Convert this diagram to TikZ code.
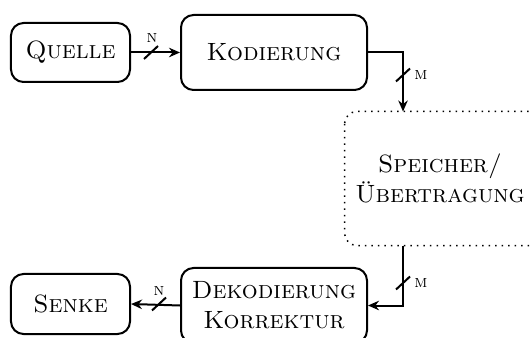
\documentclass[tikz,border=0pt]{standalone}
\usetikzlibrary{arrows.meta}
\begin{document}
\begin{tikzpicture}[x=0.4pt,y=-0.4pt,
  blk/.style={draw,thick,rounded corners=5pt,align=center,font=\normalsize\scshape,inner sep=0pt},
  dtxt/.style={align=center,font=\normalsize\scshape,inner sep=0pt},
  dbox/.style={dotted,line width=0.6pt,rounded corners=5pt},
  conn/.style={thick,-{Stealth[length=4.4pt,width=3.8pt]}},
  slash/.style={thick},
  lbl/.style={font=\scriptsize\scshape,inner sep=0pt}]
\useasboundingbox (0,0) rectangle (531,338);
\node[blk,minimum width=47.6pt,minimum height=23.6pt] (quelle) at (70.5,52.5) {Quelle};
\node[blk,minimum width=74.4pt,minimum height=30pt] (kod) at (274,52.5) {Kodierung};
\node[dtxt,minimum width=76pt,minimum height=53.2pt] (spe) at (440,178.5) {Speicher/\\\"Ubertragung};
\draw[dbox] (spe.north west) rectangle ([xshift=40pt]spe.south east);
\node[blk,minimum width=74.4pt,minimum height=30pt] (dek) at (274,305.5) {Dekodierung\\Korrektur};
\node[blk,minimum width=47.6pt,minimum height=24pt] (senke) at (70.5,304) {Senke};
\coordinate (tx) at (403,0);
\draw[conn] (quelle.east) -- (kod.west);
\draw[conn] (kod.east) -| (tx |- spe.north);
\draw[conn] (tx |- spe.south) |- (dek.east);
\draw[conn] (dek.west) -- (senke.east);
\coordinate (s1) at (151,52.5);
\coordinate (s2) at (403,75);
\coordinate (s3) at (403,283);
\coordinate (s4) at (159,304);
\foreach \s in {s1,s2,s3,s4}
  \draw[slash] ([shift={(-7,6.5)}]\s) -- ([shift={(7,-6.5)}]\s);
\node[lbl] (n1) at (152,38) {n};
\node[lbl] (m1) at (421,75) {m};
\node[lbl] (m2) at (421,283) {m};
\node[lbl] (n2) at (159,291) {n};
\end{tikzpicture}
\end{document}
